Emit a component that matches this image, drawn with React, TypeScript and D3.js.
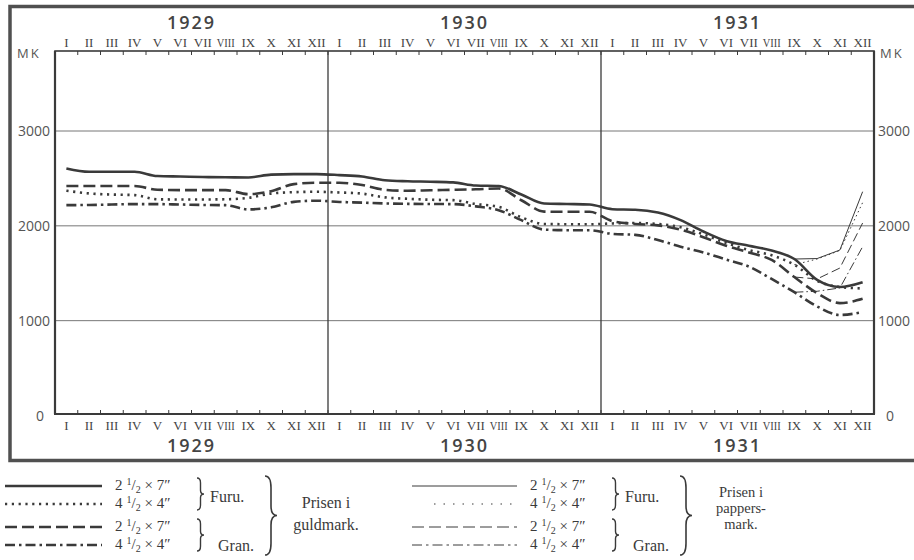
import React from 'react';
import * as d3 from 'd3';

// monthly prices, Jan 1929 .. Dec 1931 (MK)
const years = ['1929', '1930', '1931'];
const months = ['I', 'II', 'III', 'IV', 'V', 'VI', 'VII', 'VIII', 'IX', 'X', 'XI', 'XII'];
const yTicks = [0, 1000, 2000, 3000];

// gold mark
const furu27Gold = [2605, 2570, 2570, 2570, 2525, 2520, 2515, 2512, 2510, 2540, 2545, 2545,
  2535, 2520, 2480, 2470, 2465, 2458, 2425, 2420, 2330, 2235, 2230, 2225,
  2175, 2170, 2140, 2060, 1940, 1840, 1790, 1740, 1650, 1430, 1355, 1405];
const furu44Gold = [2370, 2342, 2330, 2324, 2280, 2278, 2278, 2280, 2295, 2340, 2355, 2359,
  2352, 2340, 2300, 2285, 2275, 2271, 2230, 2200, 2090, 2020, 2017, 2017,
  2025, 2030, 2020, 1985, 1910, 1820, 1745, 1690, 1590, 1420, 1355, 1340];
const gran27Gold = [2420, 2420, 2420, 2420, 2380, 2377, 2377, 2377, 2334, 2365, 2440, 2454,
  2454, 2430, 2380, 2370, 2375, 2380, 2385, 2394, 2270, 2150, 2148, 2148,
  2050, 2020, 2005, 1960, 1880, 1790, 1720, 1640, 1460, 1290, 1185, 1230];
const gran44Gold = [2218, 2220, 2225, 2229, 2229, 2225, 2220, 2218, 2173, 2195, 2253, 2265,
  2252, 2245, 2236, 2232, 2230, 2229, 2205, 2165, 2060, 1960, 1954, 1954,
  1915, 1905, 1850, 1780, 1720, 1645, 1570, 1440, 1300, 1150, 1060, 1090];

// paper mark, from IX 1931
const paperStart = 32;
const furu27Paper = [1650, 1655, 1745, 2360];
const furu44Paper = [1590, 1650, 1740, 2245];
const gran27Paper = [1460, 1440, 1555, 2030];
const gran44Paper = [1300, 1310, 1345, 1780];

const plot = { left: 55, right: 874, top: 51, bottom: 414 };
const ink = '#3a3a3a';
const serif = '"Liberation Serif", "DejaVu Serif", serif';
const sans = '"Open Sans", "DejaVu Sans", sans-serif';

const styles = {
  solid: null,
  dotted: '2.2,4.6',
  dashed: '12,5',
  dashdot: '10,4,2.5,4'
};

const x = d3.scaleLinear().domain([0, 36]).range([plot.left, plot.right]);
const y = d3.scaleLinear().domain([0, 3000]).range([415.5, 131]);

const line = d3.line<number>()
  .x((d, i) => x(i + 0.5))
  .y(d => y(d))
  .curve(d3.curveMonotoneX);

const paperLine = d3.line<number>()
  .x((d, i) => x(paperStart + i + 0.5))
  .y(d => y(d))
  .curve(d3.curveLinear);

// right pointing curly brace
const brace = (bx, y0, y1, w) => {
  const h = y1 - y0, ym = (y0 + y1) / 2, m = bx + w / 2;
  return `M${bx},${y0} Q${m},${y0} ${m},${y0 + h * 0.15} L${m},${ym - h * 0.12} Q${m},${ym} ${bx + w},${ym}` +
    ` Q${m},${ym} ${m},${ym + h * 0.12} L${m},${y1 - h * 0.15} Q${m},${y1} ${bx},${y1}`;
};

const Fraction = ({ tx, ty, whole, last }) => (
  <text x={tx} y={ty} fontFamily={serif} fontSize={15} fill={ink}>
    {whole}
    <tspan fontSize={10} dx={4} dy={-5}>1</tspan>
    <tspan dy={5}>/</tspan>
    <tspan fontSize={10} dy={3}>2</tspan>
    <tspan dy={-3}>{` × ${last}″`}</tspan>
  </text>
);

const LegendGroup = ({ ox, x0, x1, thin, label }) => {
  const rows = [490, 508, 531, 549];
  const keys = ['solid', 'dotted', 'dashed', 'dashdot'];
  return (
    <g transform={`translate(${ox},0)`}>
      {keys.map((k, i) => (
        <line key={k} x1={x0 + (thin && k === 'dotted' ? 22 : 0)} x2={x1} y1={rows[i] - 4} y2={rows[i] - 4}
          stroke={ink} strokeWidth={thin ? 1 : 2.6}
          strokeDasharray={thin && k === 'dotted' ? '1.5,8' : styles[k]} />
      ))}
      {rows.map((r, i) => (
        <Fraction key={i} tx={x1 + 13} ty={r} whole={i % 2 === 0 ? '2' : '4'} last={i % 2 === 0 ? '7' : '4'} />
      ))}
      <path d={brace(x1 + 95, rows[0] - 12, rows[1] + 2, 7)} fill="none" stroke={ink} strokeWidth={1.4} />
      <path d={brace(x1 + 95, rows[2] - 12, rows[3] + 2, 7)} fill="none" stroke={ink} strokeWidth={1.4} />
      <text x={x1 + 108} y={rows[0] + 12} fontFamily={serif} fontSize={16} fill={ink}>Furu.</text>
      <text x={x1 + 116} y={rows[3] + 2} fontFamily={serif} fontSize={16} fill={ink}>Gran.</text>
      <path d={brace(x1 + 163, rows[0] - 14, rows[3] + 6, 12)} fill="none" stroke={ink} strokeWidth={1.6} />
      {label.map((t, i) => (
        <text key={t} x={x1 + 224} y={label.length === 2 ? 508 + i * 22 : 497 + i * 16} textAnchor="middle"
          fontFamily={serif} fontSize={label.length === 2 ? 16 : 14.5} fill={ink}>{t}</text>
      ))}
    </g>
  );
};

const App = () => {
  const monthIdx = d3.range(36);
  const gold = [
    { data: furu27Gold, style: 'solid' },
    { data: furu44Gold, style: 'dotted' },
    { data: gran27Gold, style: 'dashed' },
    { data: gran44Gold, style: 'dashdot' }
  ];
  const paper = [
    { data: furu27Paper, style: 'solid' },
    { data: furu44Paper, style: 'dotted' },
    { data: gran27Paper, style: 'dashed' },
    { data: gran44Paper, style: 'dashdot' }
  ];

  return (
    <svg width={914} height={560} style={{ position: 'absolute', left: 0, top: 0, background: '#fff' }}>
      {/* outer frame */}
      <rect x={10} y={6.5} width={940} height={454} fill="none" stroke="#505050" strokeWidth={3.5} />

      {/* gridlines */}
      {yTicks.filter(t => t > 0).map(t => (
        <line key={t} x1={plot.left} x2={plot.right} y1={y(t)} y2={y(t)} stroke="#777" strokeWidth={1} />
      ))}

      {/* year dividers */}
      {[12, 24].map(m => (
        <line key={m} x1={x(m)} x2={x(m)} y1={plot.top} y2={plot.bottom} stroke={ink} strokeWidth={1.3} />
      ))}

      {/* plot box */}
      <rect x={plot.left} y={plot.top} width={plot.right - plot.left} height={plot.bottom - plot.top}
        fill="none" stroke={ink} strokeWidth={1.6} />
      <line x1={plot.left - 1} x2={plot.right + 1} y1={plot.bottom} y2={plot.bottom} stroke={ink} strokeWidth={2.2} />
      <line x1={plot.left} x2={plot.left} y1={plot.top} y2={plot.bottom} stroke={ink} strokeWidth={2.2} />
      <line x1={plot.right} x2={plot.right} y1={plot.top} y2={plot.bottom} stroke={ink} strokeWidth={2.2} />

      {/* month ticks */}
      {d3.range(1, 36).map(m => (
        <g key={m}>
          <line x1={x(m)} x2={x(m)} y1={plot.top} y2={plot.top + 4} stroke={ink} strokeWidth={1} />
          <line x1={x(m)} x2={x(m)} y1={plot.bottom} y2={plot.bottom - 4} stroke={ink} strokeWidth={1} />
        </g>
      ))}

      {/* month labels */}
      {monthIdx.map(i => (
        <g key={i}>
          <text x={x(i + 0.5)} y={47} textAnchor="middle" fontFamily={serif} fontSize={13}
            textLength={months[i % 12].length > 3 ? 18 : undefined} lengthAdjust="spacingAndGlyphs"
            fill="#444">{months[i % 12]}</text>
          <text x={x(i + 0.5)} y={430} textAnchor="middle" fontFamily={serif} fontSize={13}
            textLength={months[i % 12].length > 3 ? 18 : undefined} lengthAdjust="spacingAndGlyphs"
            fill="#444">{months[i % 12]}</text>
        </g>
      ))}

      {/* year labels */}
      {years.map((yr, i) => (
        <g key={yr}>
          <text x={x(i * 12 + 6)} y={29} textAnchor="middle" fontFamily={sans} fontWeight={600}
            fontSize={18} letterSpacing={2} fill="#444">{yr}</text>
          <text x={x(i * 12 + 6)} y={452} textAnchor="middle" fontFamily={sans} fontWeight={600}
            fontSize={18} letterSpacing={2} fill="#444">{yr}</text>
        </g>
      ))}

      {/* y labels */}
      <text x={17} y={58} fontFamily={sans} fontSize={13} letterSpacing={2} fill="#555">MK</text>
      <text x={880} y={58} fontFamily={sans} fontSize={13} letterSpacing={2} fill="#555">MK</text>
      {yTicks.map(t => (
        <g key={t}>
          <text x={t === 0 ? 44 : 50} y={y(t) + 5} textAnchor="end" fontFamily={sans} fontSize={14} fill="#555">{t}</text>
          <text x={t === 0 ? 886 : 878} y={y(t) + 5} fontFamily={sans} fontSize={14} fill="#555">{t}</text>
        </g>
      ))}

      {/* paper mark lines */}
      {paper.map(s => (
        <path key={'p' + s.style} d={paperLine(s.data)} fill="none" stroke={ink} strokeWidth={1}
          strokeDasharray={s.style === 'dotted' ? '1.5,3' : s.style === 'dashed' ? '9,4' : s.style === 'dashdot' ? '9,3,1.5,3' : null} />
      ))}

      {/* gold mark lines */}
      {gold.map(s => (
        <path key={s.style} d={line(s.data)} fill="none" stroke={ink} strokeWidth={2.6}
          strokeDasharray={styles[s.style]} />
      ))}

      {/* legend */}
      <LegendGroup ox={0} x0={5} x1={102} thin={false} label={['Prisen i', 'guldmark.']} />
      <LegendGroup ox={410} x0={2} x1={107} thin={true} label={['Prisen i', 'pappers-', 'mark.']} />
    </svg>
  );
};

export default App;
